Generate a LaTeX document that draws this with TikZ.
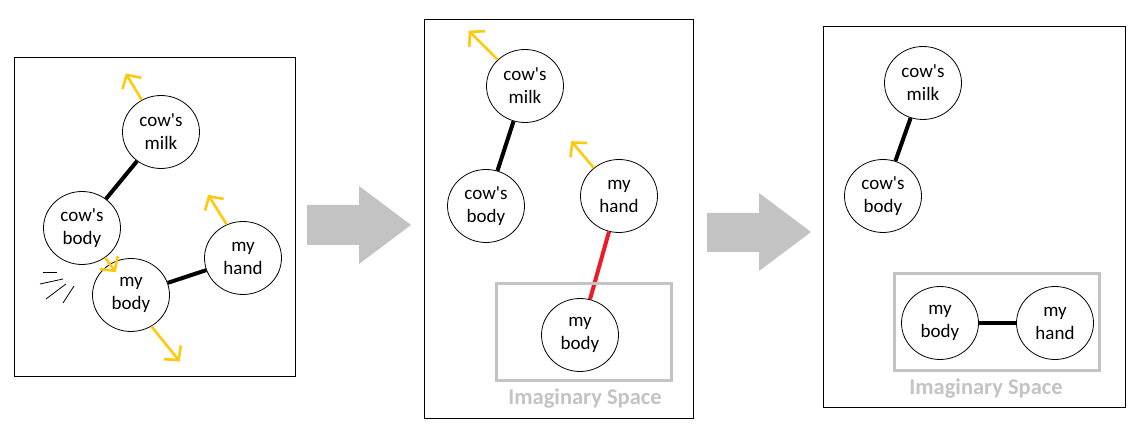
\documentclass[tikz,border=0pt]{standalone}
\usepackage{fontspec}
\setmainfont{Carlito}
\usetikzlibrary{shapes.geometric, arrows.meta, positioning}

\definecolor{paintgold}{RGB}{255,201,14}
\definecolor{paintred}{RGB}{237,28,36}
\definecolor{paintgray}{RGB}{195,195,195}
\newcommand{\cows}{cow\textquotesingle s}

\begin{document}
\begin{tikzpicture}[
		x=1pt, y=1pt,
		% Style for the concept bubbles
		blob/.style={ellipse, draw, line width=0.8pt, minimum width=77, minimum height=73,
			inner sep=0pt, align=center, font=\fontsize{19}{23}\selectfont},
		% Links between bubbles
		tie/.style={line width=4pt},
		tie-broken/.style={line width=4pt, draw=paintred},
		% Motion arrows
		push/.style={draw=paintgold, line width=2.6pt, -{Straight Barb[length=10pt, width=22pt, line width=2.6pt]}},
		% Panels and the imaginary space
		panel/.style={draw, line width=0.8pt},
		space/.style={draw=paintgray, line width=3pt},
		space label/.style={text=paintgray, font=\fontsize{22.5}{27}\selectfont\bfseries},
		big arrow/.style={fill=paintgray},
		swoosh/.style={line width=0.8pt}
		]
		\useasboundingbox (0,0) rectangle (1138,433);
		
		% PANEL 1
		\begin{scope}[shift={(14,57)}]
			\draw[panel] (0,0) rectangle (281,319);
			\node[blob] (milkA) at (147,244) {\cows\\milk};
			\node[blob] (cbodyA) at (68,148) {\cows\\body};
			\node[blob] (mbodyA) at (117,81) {my\\body};
			\node[blob] (handA) at (229,118) {my\\hand};
			\draw[tie] (milkA) -- (cbodyA);
			\draw[tie] (mbodyA) -- (handA);
			\draw[push] (milkA.121) -- +(121:31);
			\draw[push] (handA.116) -- +(122:35);
			\draw[push] (cbodyA.-52) -- +(-54:18);
			\draw[push] (mbodyA.-57) -- +(-51:45);
			% impact lines
			\draw[swoosh] (29,104) -- (43,104);
			\draw[swoosh] (26,92) -- (49,97);
			\draw[swoosh] (32,77) -- (52,92);
			\draw[swoosh] (49,73) -- (60,90);
		\end{scope}
		
		\fill[big arrow] (307,188) -- (307,228) -- (359,228) -- (359,247) -- (411,208) -- (359,169) -- (359,188) -- cycle;
		
		% PANEL 2
		\begin{scope}[shift={(424,15)}]
			\draw[panel] (0,0) rectangle (269,399);
			\node[blob] (milkB) at (101,332) {\cows\\milk};
			\node[blob] (cbodyB) at (62,212) {\cows\\body};
			\node[blob] (handB) at (195,222) {my\\hand};
			\node[blob] (mbodyB) at (156,83) {my\\body};
			\draw[tie] (milkB) -- (cbodyB);
			\draw[tie-broken] (handB) -- (mbodyB);
			\draw[push] (milkB.136) -- +(135:41);
			\draw[push] (handB.132) -- +(130:35);
			\draw[space] (72,37) rectangle (247,134);
			\node[space label] (spaceB) at (161,19) {Imaginary Space};
		\end{scope}
		
		\fill[big arrow] (707,181) -- (707,220) -- (759,220) -- (759,240) -- (811,201) -- (759,162) -- (759,181) -- cycle;
		
		% PANEL 3
		\begin{scope}[shift={(823,26)}]
			\draw[panel] (0,0) rectangle (302,381);
			\node[blob] (milkC) at (100,324) {\cows\\milk};
			\node[blob] (cbodyC) at (60,211) {\cows\\body};
			\node[blob] (mbodyC) at (117,84) {my\\body};
			\node[blob] (handC) at (232,84) {my\\hand};
			\draw[tie] (milkC) -- (cbodyC);
			\draw[tie] (mbodyC) -- (handC);
			\draw[space] (71,36) rectangle (276,133);
			\node[space label] (spaceC) at (163,18) {Imaginary Space};
		\end{scope}
	\end{tikzpicture}
\end{document}
